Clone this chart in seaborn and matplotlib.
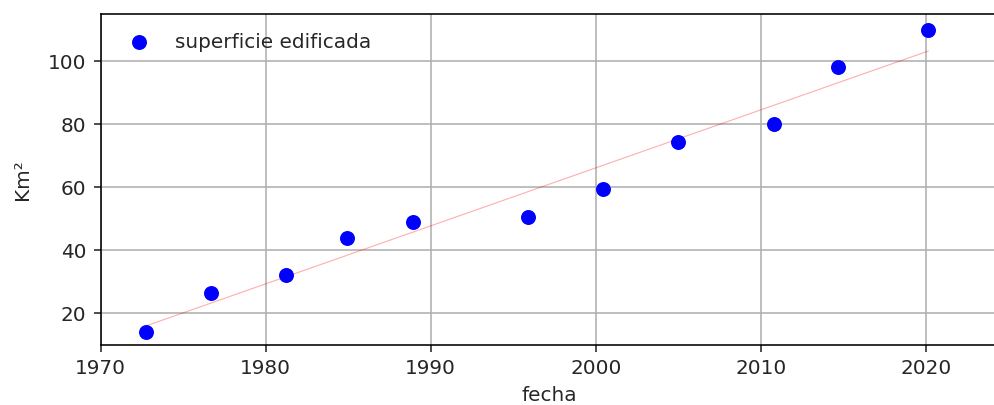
import matplotlib
matplotlib.use("Agg")
import matplotlib.pyplot as plt
import seaborn as sns
import numpy as np

# Built-up surface (km²) by image date (decimal year)
fecha = [1972.73, 1976.67, 1981.25, 1984.95, 1988.90, 1995.88,
         2000.44, 2004.99, 2010.77, 2014.70, 2020.14]
superficie = [14.16, 26.54, 32.25, 44.0, 49.08, 50.48,
              59.37, 74.16, 80.0, 97.97, 109.71]

DPI = 144
fig = plt.figure(figsize=(994.4 / DPI, 405.4 / DPI), dpi=DPI)
ax = fig.add_axes([100.5 / 994, 60 / 405, (997 - 100.5) / 994, (390.3 - 60) / 405])

ax.set_axisbelow(True)
ax.grid(True)

sns.scatterplot(x=fecha, y=superficie, color="blue", s=56, linewidth=0,
                label="superficie edificada", ax=ax, zorder=3)
sns.regplot(x=np.array(fecha), y=np.array(superficie), scatter=False, ci=None,
            line_kws=dict(color="red", lw=0.6, alpha=0.3), ax=ax)

ax.set_xlim(1970, 1970 + (997 - 100.5) / 16.5)
ax.set_ylim(9.94, 114.8)
ax.set_xticks([1970, 1980, 1990, 2000, 2010, 2020])
ax.set_yticks([20, 40, 60, 80, 100])
ax.tick_params(colors="#262626", labelcolor="#262626")
ax.set_xlabel("fecha", color="#262626")
ax.set_ylabel("Km²", color="#262626", labelpad=8)
leg = ax.legend(loc="upper left", frameon=False)
for t in leg.get_texts():
    t.set_color("#262626")

fig.savefig("out.png", dpi=DPI)
